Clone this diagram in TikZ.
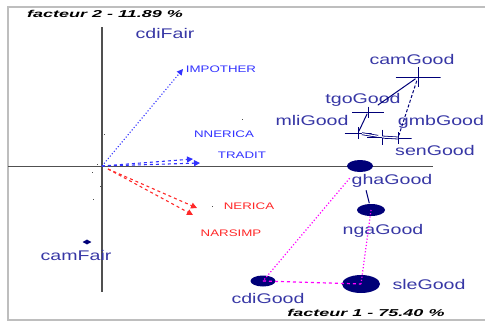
\documentclass[tikz,border=0pt]{standalone}
\usepackage{fontspec}
\setmainfont{Liberation Sans}
\usetikzlibrary{positioning,shapes.geometric,arrows.meta}
\definecolor{pointnavy}{RGB}{0,0,120}
\definecolor{labelnavy}{RGB}{55,55,165}
\definecolor{varblue}{RGB}{50,50,255}
\definecolor{varred}{RGB}{255,40,40}
\definecolor{linkmag}{RGB}{255,0,255}
\definecolor{framegray}{RGB}{190,190,190}
\definecolor{axisgray}{RGB}{80,80,80}

\tikzset{
    obslabel/.style={text=labelnavy, font=\fontsize{14}{14}\selectfont, xscale=1.4, inner sep=0pt},
    varlabel/.style={font=\fontsize{9.5}{9.5}\selectfont, xscale=1.4, inner sep=0pt},
    axistitle/.style={font=\fontsize{10}{10}\selectfont\bfseries\itshape, xscale=1.8, inner sep=0pt},
    goodblob/.style={ellipse, fill=pointnavy, inner sep=0pt},
    plusmark/.style={rectangle, inner sep=0pt, path picture={
        \draw[pointnavy, line width=0.9pt] (path picture bounding box.west) -- (path picture bounding box.east)
            (path picture bounding box.north) -- (path picture bounding box.south);}},
    vararrow/.style={line width=1.1pt, -{Triangle[length=6pt,width=6pt]}},
    tinydot/.style={rectangle, fill=black!70, minimum size=1pt, inner sep=0pt}
}

\begin{document}
\begin{tikzpicture}[x=1pt, y=-1pt]
    \useasboundingbox (0,0) rectangle (485,322);

    % frame and axes
    \draw[framegray, line width=2pt] (485,7) -- (8,7) -- (8,320) -- (485,320);
    \draw[axisgray, line width=1.5pt] (102,27) -- (102,292);
    \draw[axisgray, line width=1pt] (8,166) -- (433,166);

    \node (f2) [axistitle] at (105,14) {facteur 2 - 11.89 \%};
    \node (f1) [axistitle] at (366,313) {facteur 1 - 75.40 \%};

    % variable arrows
    \coordinate (o) at (102,166);
    \coordinate (impTip) at (183,69);
    \coordinate (nneTip) at (193,159);
    \coordinate (traTip) at (200,163);
    \coordinate (nerTip) at (197,208);
    \coordinate (narTip) at (193,215);

    \draw[vararrow, varblue, dotted] (o) -- (impTip);
    \draw[vararrow, varblue, dashed] (o) -- (nneTip);
    \draw[vararrow, varblue, dashed] (o) -- (traTip);
    \draw[vararrow, varred, dashed] ([xshift=6pt,yshift=-3pt]o) -- (nerTip);
    \draw[vararrow, varred, dashed] ([xshift=6pt,yshift=-3pt]o) -- (narTip);

    \node (impother) [varlabel, text=varblue] at (221,69) {IMPOTHER};
    \node (nnerica) [varlabel, text=varblue] at (224,134) {NNERICA};
    \node (tradit) [varlabel, text=varblue] at (242,155) {TRADIT};
    \node (nerica) [varlabel, text=varred] at (249,206) {NERICA};
    \node (narsimp) [varlabel, text=varred] at (231,233) {NARSIMP};

    % unlabelled points
    \foreach \px/\py [count=\i] in {104/134, 97/164, 92/172, 100/186, 93/199, 242/119, 212/206}
        \node (dot\i) [tinydot] at (\px,\py) {};

    % Fair points
    \node (cdiFair) [obslabel] at (165,33) {cdiFair};
    \node (camFairPt) [diamond, fill=pointnavy, minimum width=9pt, minimum height=5pt, inner sep=0pt] at (87,242) {};
    \node (camFair) [obslabel] at (76,255) {camFair};

    % Good points, crosses
    \node (camGoodPt) [plusmark, minimum width=45pt, minimum height=20pt] at (418,77) {};
    \node (tgoGoodPt) [plusmark, minimum width=32pt, minimum height=11pt] at (368,112) {};
    \node (mliGoodPt) [plusmark, minimum width=27pt, minimum height=12pt] at (358,133) {};
    \node (senGoodPt) [plusmark, minimum width=30pt, minimum height=15pt] at (382,137) {};
    \node (gmbGoodPt) [plusmark, minimum width=27pt, minimum height=12pt] at (398,138) {};

    \node (camGood) [obslabel] at (412,59) {camGood};
    \node (tgoGood) [obslabel] at (363,100) {tgoGood};
    \node (mliGood) [obslabel] at (312,120) {mliGood};
    \node (gmbGood) [obslabel] at (441,122) {gmbGood};
    \node (senGood) [obslabel] at (435,150) {senGood};

    % Good points, blobs
    \node (ghaGoodPt) [goodblob, minimum width=26pt, minimum height=12pt] at (360,166) {};
    \node (ngaGoodPt) [goodblob, minimum width=28pt, minimum height=12pt] at (371,210) {};
    \node (sleGoodPt) [goodblob, minimum width=38pt, minimum height=18pt] at (361,284) {};
    \node (cdiGoodPt) [goodblob, minimum width=25pt, minimum height=11pt] at (263,281) {};

    \node (ghaGood) [obslabel] at (392,181) {ghaGood};
    \node (ngaGood) [obslabel] at (383,231) {ngaGood};
    \node (sleGood) [obslabel] at (429,284) {sleGood};
    \node (cdiGood) [obslabel] at (268,298) {cdiGood};

    % links
    \draw[pointnavy, line width=1pt, shorten <=3pt, shorten >=12pt] (camGoodPt.center) -- (tgoGoodPt.center);
    \draw[pointnavy, line width=1pt, densely dashed, shorten <=4pt, shorten >=3pt] (camGoodPt.center) -- (gmbGoodPt.center);
    \draw[pointnavy, line width=1pt, shorten <=2pt, shorten >=2pt] (tgoGoodPt.center) -- (mliGoodPt.center);
    \draw[pointnavy, line width=0.8pt, double, double distance=1.2pt, shorten <=4pt, shorten >=4pt] (mliGoodPt.center) -- (senGoodPt.center);
    \draw[pointnavy, line width=0.8pt, double, double distance=1.2pt] (senGoodPt.center) -- (gmbGoodPt.center);
    \draw[pointnavy, line width=1pt, shorten <=25pt, shorten >=7pt] (ghaGoodPt.center) -- (ngaGoodPt.center);

    \draw[linkmag, line width=1.2pt, dotted, shorten <=16pt] (ghaGoodPt.center) -- (cdiGoodPt.center);
    \draw[linkmag, line width=1.2pt, dotted] (ngaGoodPt.center) -- (sleGoodPt.center);
    \draw[linkmag, line width=1.2pt, dashed] (cdiGoodPt.center) -- (sleGoodPt.center);
\end{tikzpicture}
\end{document}
